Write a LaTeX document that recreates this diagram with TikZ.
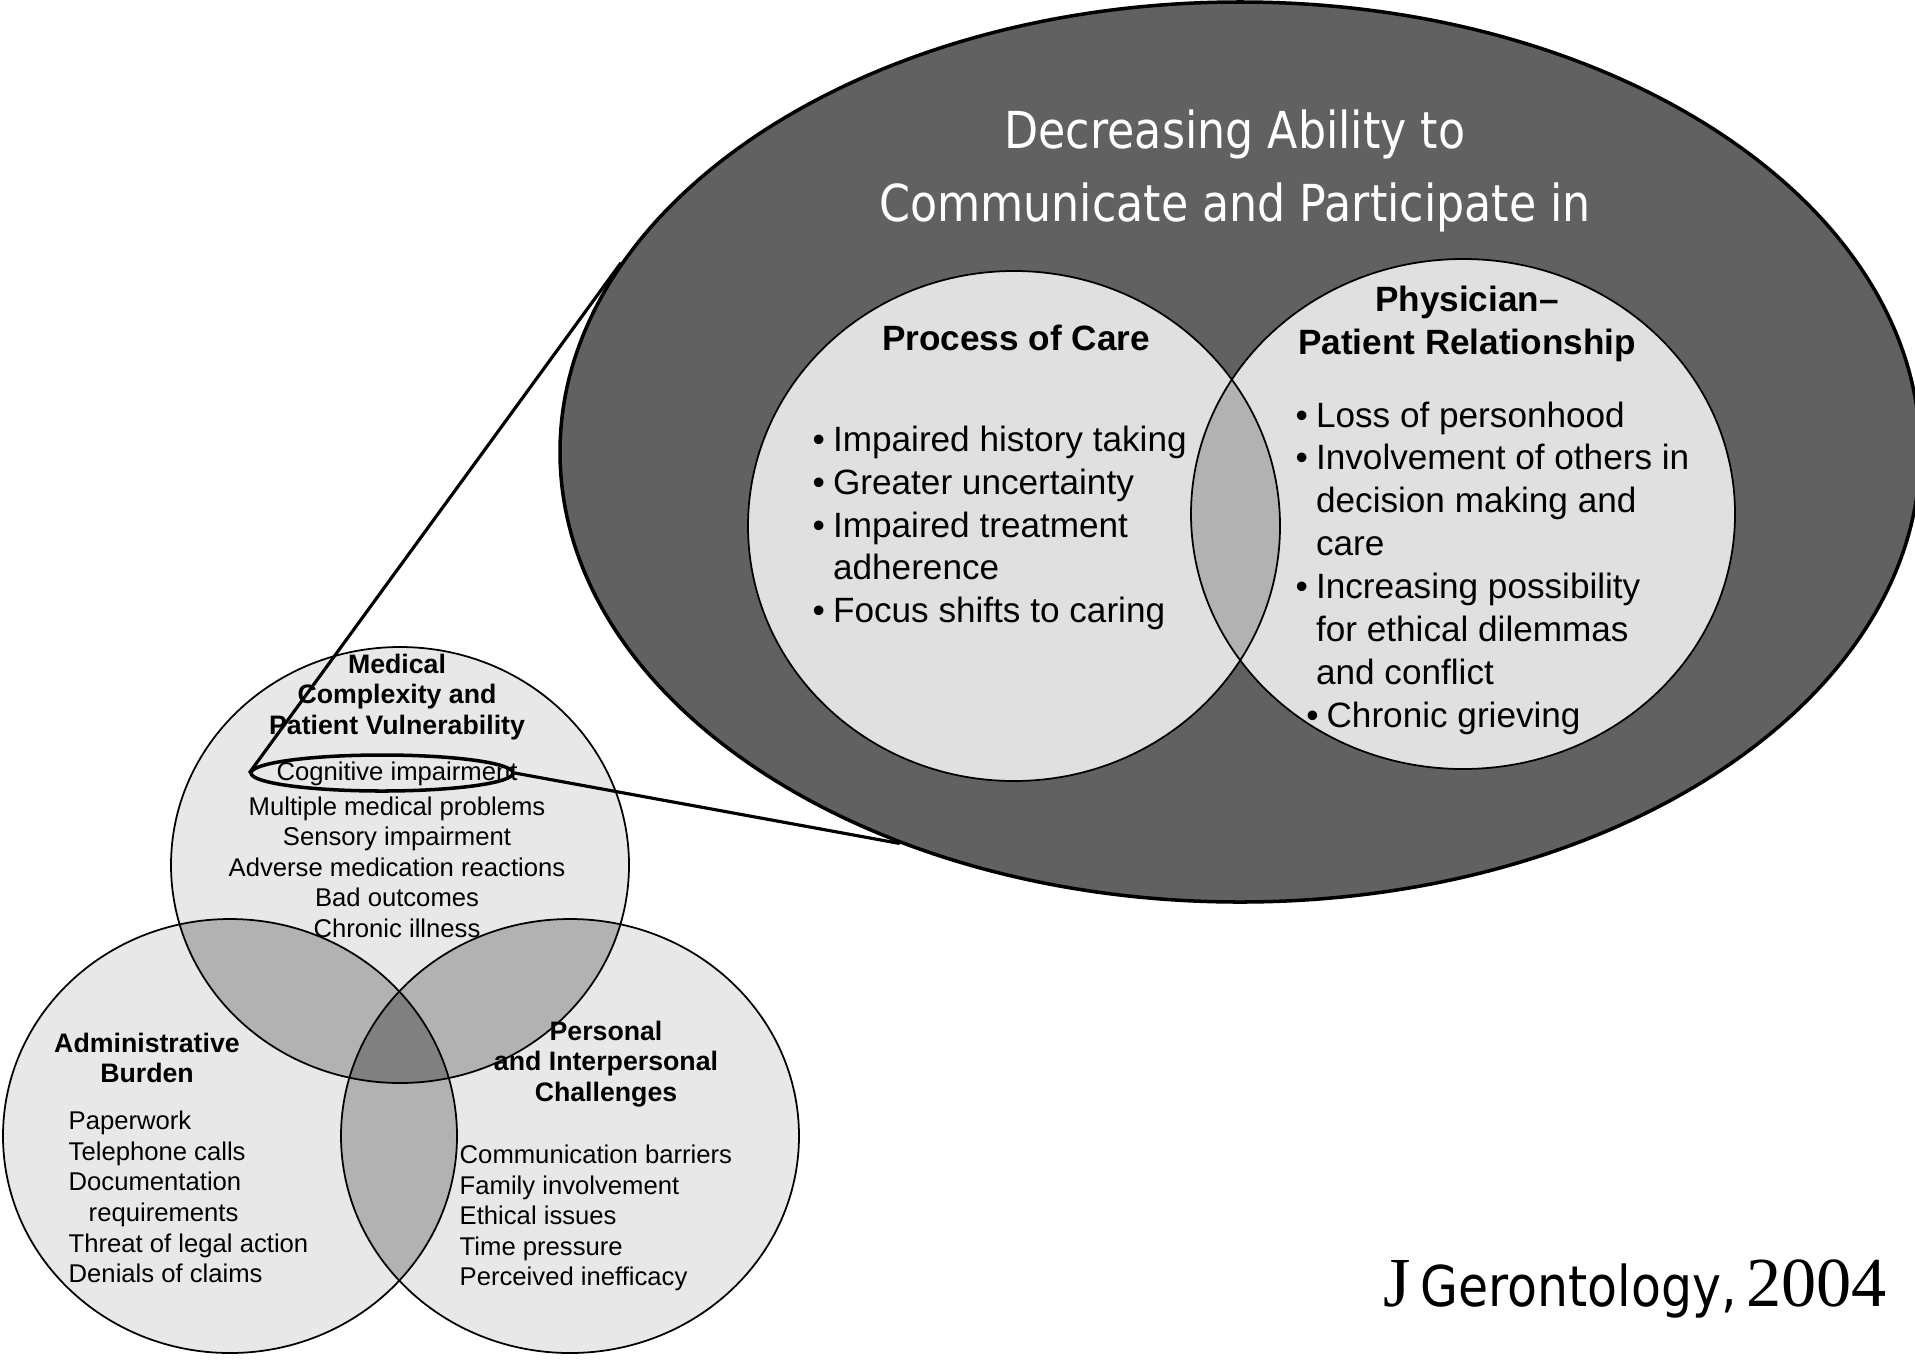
\documentclass[tikz,border=0pt]{standalone}
\usepackage{fontspec}
\setmainfont{Liberation Sans}
\newfontfamily\headfont[FakeStretch=0.87]{DejaVu Sans}
\newfontfamily\serffont{Liberation Serif}
\usetikzlibrary{shapes.geometric}
\newcommand{\bul}{\makebox[0.58em][l]{\textbullet}}
\newcommand{\gap}{\hspace*{0.58em}}
\newcommand{\carering}{(10.14,8.35) ellipse [x radius=2.66, y radius=2.55]}
\newcommand{\bondring}{(14.63,8.47) ellipse [x radius=2.72, y radius=2.55]}
\newcommand{\topring}{(4.00,4.96) ellipse [x radius=2.29, y radius=2.18]}
\newcommand{\leftring}{(2.30,2.25) ellipse [x radius=2.27, y radius=2.17]}
\newcommand{\rightring}{(5.70,2.25) ellipse [x radius=2.29, y radius=2.17]}

\begin{document}
\begin{tikzpicture}[ring/.style = {draw=black, line width=0.5pt}, head/.style = {font=\bfseries\fontsize{7.6}{8.7}\selectfont, align=center, inner sep=0pt}, item/.style = {font=\fontsize{7.3}{8.7}\selectfont, align=left, inner sep=0pt}, bighead/.style = {font=\bfseries\fontsize{10}{12.2}\selectfont, align=center, inner sep=0pt}, bigitem/.style = {font=\fontsize{10}{12.2}\selectfont, align=left, inner sep=0pt}, link/.style = {line width=0.9pt}]
	\useasboundingbox (0,0) rectangle (19.15,13.61);
	\node[ellipse, draw, line width=1pt, fill=black!62, minimum width=13.6cm, minimum height=9cm] (big) at (12.40,9.09) {};
	\node[white, font=\headfont\fontsize{14.5}{21}\selectfont, align=center] (title) at (12.35,11.90) {Decreasing Ability to\\Communicate and Participate in};
	\fill[black!12] \carering;
	\fill[black!12] \bondring;
	\begin{scope}
		\clip \carering;
		\fill[black!30] \bondring;
	\end{scope}
	\draw[ring] \carering;
	\draw[ring] \bondring;
	\node[bighead] (care) at (10.16,10.23) {Process of Care};
	\node[bigitem, anchor=west] (carelist) at (8.12,8.33) {\bul Impaired history taking\\\bul Greater uncertainty\\\bul Impaired treatment\\\gap adherence\\\bul Focus shifts to caring};
	\node[bighead] (bond) at (14.67,10.37) {Physician--\\Patient Relationship};
	\node[bigitem, anchor=west] (bondlist) at (12.95,7.93) {\bul Loss of personhood\\\bul Involvement of others in\\\gap decision making and\\\gap care\\\bul Increasing possibility\\\gap for ethical dilemmas\\\gap and conflict\\\hspace*{3pt}\bul Chronic grieving};
	\fill[black!9] \topring;
	\fill[black!9] \leftring;
	\fill[black!9] \rightring;
	\begin{scope}
		\clip \topring;
		\fill[black!30] \leftring;
		\fill[black!30] \rightring;
	\end{scope}
	\begin{scope}
		\clip \leftring;
		\fill[black!30] \rightring;
	\end{scope}
	\begin{scope}
		\clip \topring;
		\clip \leftring;
		\fill[black!50] \rightring;
	\end{scope}
	\draw[ring] \topring;
	\draw[ring] \leftring;
	\draw[ring] \rightring;
	\node[head] (med) at (3.97,6.64) {Medical\\Complexity and\\Patient Vulnerability};
	\node[item] (cogtext) at (3.97,5.87) {Cognitive impairment};
	\node[ellipse, draw, line width=1pt, minimum width=2.62cm, minimum height=0.36cm, inner sep=0pt] (cog) at (3.82,5.88) {};
	\node[item, align=center] (medlist) at (3.97,4.94) {Multiple medical problems\\Sensory impairment\\Adverse medication reactions\\Bad outcomes\\Chronic illness};
	\node[head] (admin) at (1.47,3.03) {Administrative\\Burden};
	\node[item, anchor=west] (adminlist) at (0.68,1.64) {Paperwork\\Telephone calls\\Documentation\\\hspace*{5.7pt}requirements\\Threat of legal action\\Denials of claims};
	\node[head] (pers) at (6.06,2.97) {Personal\\and Interpersonal\\Challenges};
	\node[item, anchor=west] (perslist) at (4.59,1.43) {Communication barriers\\Family involvement\\Ethical issues\\Time pressure\\Perceived inefficacy};
	\draw[link] (cog.west) -- (big.163);
	\draw[link] (cog.east) -- (big.229);
	\node[inner sep=0pt] (cite) at (16.35,0.72) {{\serffont\fontsize{20}{24}\selectfont J} {\headfont\fontsize{16}{20}\selectfont Gerontology,} {\serffont\fontsize{20}{24}\selectfont 2004}};
\end{tikzpicture}
\end{document}
